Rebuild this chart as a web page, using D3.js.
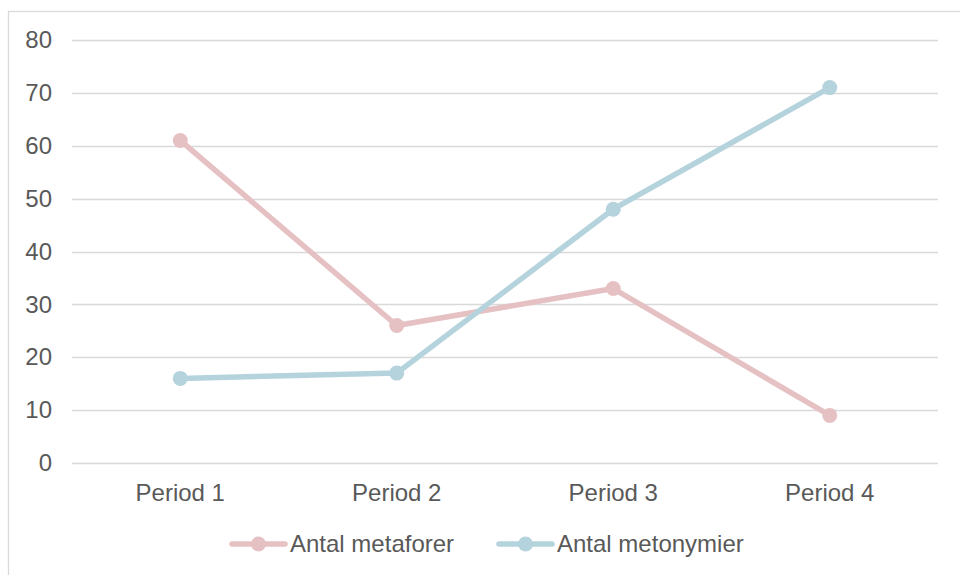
<!DOCTYPE html>
<html><head><meta charset="utf-8">
<script src="https://cdn.jsdelivr.net/npm/d3@7"></script>
<style>body{margin:0;background:#fff}svg{display:block}text{font-family:"Liberation Sans",Arial,sans-serif;fill:#595959}</style>
</head><body><svg id="c" width="960" height="575"></svg>
<script>
const categories = ["Period 1","Period 2","Period 3","Period 4"];
const seriesNames = ["Antal metaforer","Antal metonymier"];
const metaforer = [61,26,33,9];
const metonymier = [16,17,48,71];
const yTicks = [0,10,20,30,40,50,60,70,80];
const colors = ["#e6c1c4","#b5d3dd"];

const svg = d3.select("#c");
svg.append("rect").attr("x",8.5).attr("y",11.5).attr("width",1000).attr("height",1000)
  .attr("fill","none").attr("stroke","#d9d9d9").attr("stroke-width",1.3);

const x = d3.scaleBand().domain(categories).range([72,938]);
const y = d3.scaleLinear().domain([0,80]).range([463,40]);

const grid = svg.append("g");
grid.selectAll("line").data(yTicks).join("line")
  .attr("x1",72).attr("x2",938).attr("y1",d=>Math.round(y(d))+0.5).attr("y2",d=>Math.round(y(d))+0.5)
  .attr("stroke","#d9d9d9").attr("stroke-width",1.3);

const yAxis = d3.axisLeft(y).tickValues(yTicks).tickSize(0).tickPadding(0);
const gy = svg.append("g").attr("transform","translate(52,0)").call(yAxis);
gy.select(".domain").remove();
gy.selectAll("text").attr("font-size",24).style("fill","#595959").attr("font-family","Liberation Sans, Arial, sans-serif");

const xAxis = d3.axisBottom(x).tickSize(0).tickPadding(0);
const gx = svg.append("g").attr("transform","translate(0,484)").call(xAxis);
gx.select(".domain").remove();
gx.selectAll("text").attr("font-size",24).attr("dy","0.71em").style("fill","#595959").attr("font-family","Liberation Sans, Arial, sans-serif");

const series = [metaforer, metonymier];
const line = d3.line().x((d,i)=>x(categories[i])+x.bandwidth()/2).y(d=>y(d));
series.forEach((s,k)=>{
  const g = svg.append("g");
  g.append("path").attr("d",line(s)).attr("fill","none").attr("stroke",colors[k])
    .attr("stroke-width",5.5).attr("stroke-linejoin","round").attr("stroke-linecap","round");
  g.selectAll("circle").data(s).join("circle")
    .attr("cx",(d,i)=>x(categories[i])+x.bandwidth()/2).attr("cy",d=>y(d)).attr("r",7.5).attr("fill",colors[k]);
});

const legendX = [230, 497];
seriesNames.forEach((n,k)=>{
  const g = svg.append("g").attr("transform",`translate(${legendX[k]},544)`);
  g.append("line").attr("x1",2).attr("x2",55).attr("y1",0).attr("y2",0).attr("stroke",colors[k]).attr("stroke-width",5.5).attr("stroke-linecap","round");
  g.append("circle").attr("cx",28.5).attr("cy",0).attr("r",7.5).attr("fill",colors[k]);
  g.append("text").attr("x",60).attr("y",0).attr("dy","0.35em").attr("font-size",24).text(n);
});
</script></body></html>
